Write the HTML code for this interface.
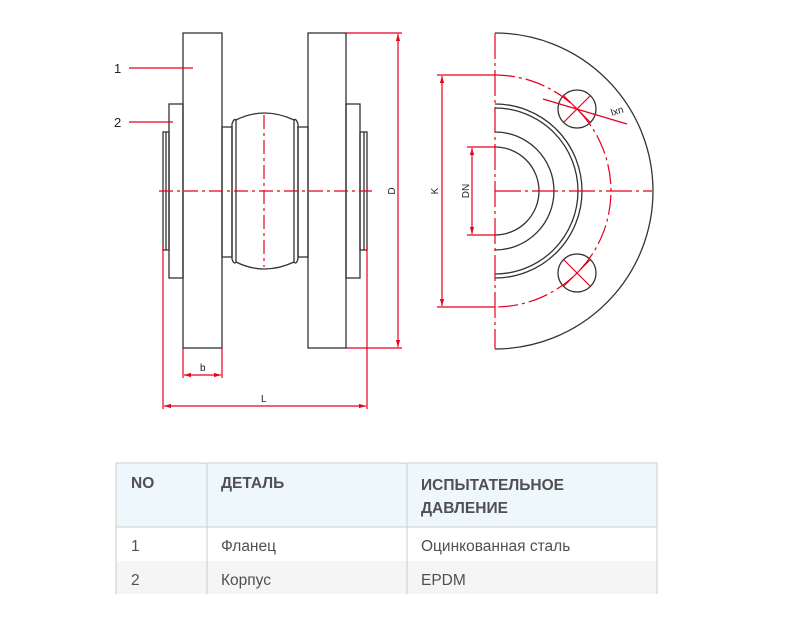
<!DOCTYPE html>
<html><head><meta charset="utf-8"><style>
body{margin:0;background:#fff;width:800px;height:640px;overflow:hidden}
svg{position:absolute;left:0;top:0}
</style></head><body>
<svg width="800" height="640" xmlns="http://www.w3.org/2000/svg">
<defs>
<marker id="a" viewBox="0 0 10 10" refX="10" refY="5" markerWidth="6" markerHeight="6" orient="auto-start-reverse"><path d="M0,2 L10,5 L0,8z" fill="#e8001c"/></marker>
</defs>
<g fill="none" stroke="#333" stroke-width="1.3">
<rect x="183" y="33" width="39" height="315"/>
<rect x="308" y="33" width="38" height="315"/>
<rect x="169" y="104" width="14" height="174"/>
<rect x="163" y="132" width="6" height="118"/>
<line x1="166" y1="132" x2="166" y2="250"/>
<rect x="346" y="104" width="14" height="174"/>
<rect x="360" y="132" width="7" height="118"/>
<line x1="364" y1="132" x2="364" y2="250"/>
<rect x="222" y="127" width="10" height="130"/>
<rect x="298" y="127" width="10" height="130"/>
<path d="M232,124 L232,259 M236,120 L236,262 M298,124 L298,259 M294,120 L294,262"/>
<path d="M232,124 Q234,118 236,120 M232,259 Q234,265 236,262 M298,124 Q296,118 294,120 M298,259 Q296,265 294,262"/>
<path d="M236,120 Q264,106 294,120 M236,262 Q264,276 294,262"/>
<path d="M495,33 A158,158 0 0 1 495,349"/>
<path d="M495,104 A87,87 0 0 1 495,278"/>
<path d="M495,108 A83,83 0 0 1 495,274"/>
<path d="M495,132 A59,59 0 0 1 495,250"/>
<path d="M495,147 A44,44 0 0 1 495,235"/>
<circle cx="577" cy="109" r="19"/>
<circle cx="577" cy="273" r="19"/>
</g>
<g fill="none" stroke="#e8001c" stroke-width="1.2">
<line x1="159" y1="191" x2="372" y2="191" stroke-dasharray="14,4,3,4"/>
<line x1="264" y1="115" x2="264" y2="267" stroke-dasharray="14,4,3,4"/>
<line x1="129" y1="68" x2="193" y2="68"/>
<line x1="129" y1="122" x2="173" y2="122"/>
<line x1="346" y1="33" x2="402" y2="33"/><line x1="346" y1="348" x2="402" y2="348"/>
<line x1="398" y1="34" x2="398" y2="347" marker-start="url(#a)" marker-end="url(#a)"/>
<line x1="183" y1="348" x2="183" y2="378"/><line x1="222" y1="348" x2="222" y2="378"/>
<line x1="184" y1="375" x2="221" y2="375" marker-start="url(#a)" marker-end="url(#a)"/>
<line x1="163" y1="245" x2="163" y2="409"/><line x1="367" y1="245" x2="367" y2="409"/>
<line x1="164" y1="406" x2="366" y2="406" marker-start="url(#a)" marker-end="url(#a)"/>
<line x1="495" y1="33" x2="495" y2="349" stroke-dasharray="26,4,3,4"/>
<line x1="495" y1="191" x2="652" y2="191" stroke-dasharray="26,4,3,4"/>
<path d="M495,75 A116,116 0 0 1 495,307" stroke-dasharray="20,4,3,4"/>
<line x1="437" y1="75" x2="495" y2="75"/><line x1="437" y1="307" x2="495" y2="307"/>
<line x1="442" y1="76" x2="442" y2="306" marker-start="url(#a)" marker-end="url(#a)"/>
<line x1="467" y1="147" x2="495" y2="147"/><line x1="467" y1="235" x2="495" y2="235"/>
<line x1="472" y1="148" x2="472" y2="234" marker-start="url(#a)" marker-end="url(#a)"/>
<line x1="543" y1="99" x2="627" y2="124"/>
<path d="M564,96 L590,122 M590,96 L564,122 M564,260 L590,286 M590,260 L564,286"/>
</g>
<g font-family="Liberation Sans, sans-serif" fill="#222">
<text x="114" y="73" font-size="13">1</text>
<text x="114" y="127" font-size="13">2</text>
<text x="200" y="371" font-size="10">b</text>
<text x="261" y="402" font-size="10">L</text>
<text transform="translate(395,191) rotate(-90)" font-size="10" text-anchor="middle">D</text>
<text transform="translate(438,191) rotate(-90)" font-size="10" text-anchor="middle">K</text>
<text transform="translate(469,191) rotate(-90)" font-size="10" text-anchor="middle">DN</text>
<text transform="translate(612,116) rotate(-17)" font-size="10">lxn</text>
</g>
<rect x="116" y="463" width="541" height="64" fill="#eef7fc"/>
<rect x="116" y="561" width="541" height="33" fill="#f5f5f5"/>
<g stroke="#ccc" stroke-width="1" fill="none">
<line x1="116" y1="463" x2="657" y2="463"/>
<line x1="116" y1="527" x2="657" y2="527"/>
<line x1="116" y1="463" x2="116" y2="594"/>
<line x1="207" y1="463" x2="207" y2="594"/>
<line x1="407" y1="463" x2="407" y2="594"/>
<line x1="657" y1="463" x2="657" y2="594"/>
</g>
<g font-family="Liberation Sans, DejaVu Sans, sans-serif" font-size="15.5" fill="#505050">
<text x="131" y="488" font-weight="bold">NO</text>
<text x="221" y="488" font-weight="bold">ДЕТАЛЬ</text>
<text x="421" y="490" font-weight="bold">ИСПЫТАТЕЛЬНОЕ</text>
<text x="421" y="513" font-weight="bold">ДАВЛЕНИЕ</text>
<text x="131" y="551">1</text>
<text x="221" y="551">Фланец</text>
<text x="421" y="551">Оцинкованная сталь</text>
<text x="131" y="585">2</text>
<text x="221" y="585">Корпус</text>
<text x="421" y="585">EPDM</text>
</g>
</svg>
</body></html>
